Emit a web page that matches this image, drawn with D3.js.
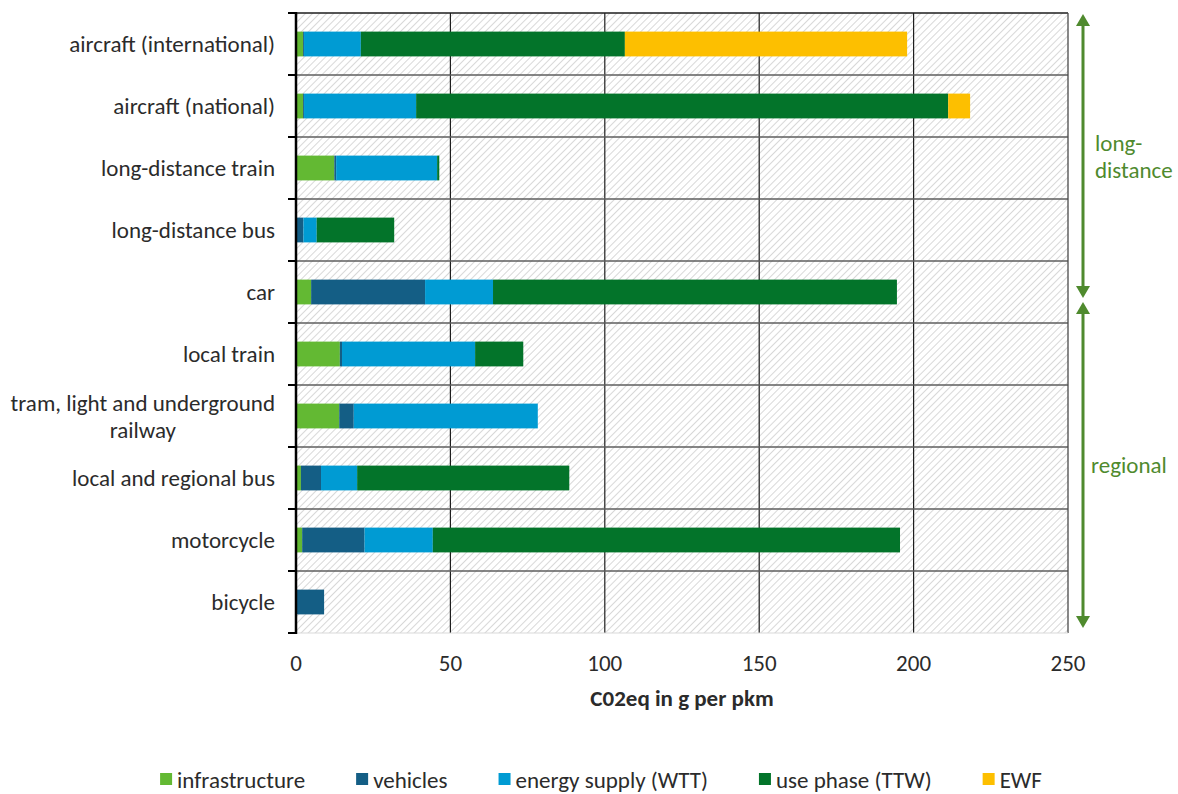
<!DOCTYPE html>
<html>
<head>
<meta charset="utf-8">
<script src="https://cdn.jsdelivr.net/npm/d3@7"></script>
<style>
  html, body { margin: 0; padding: 0; background: #fff; }
  svg { display: block; font-family: Carlito, Calibri, Lato, "Open Sans", sans-serif; }
</style>
</head>
<body>
<svg id="chart" width="1178" height="794"></svg>
<script>
// ---------- data ----------
const categories = [
  "aircraft (international)",
  "aircraft (national)",
  "long-distance train",
  "long-distance bus",
  "car",
  "local train",
  "tram, light and underground\nrailway",
  "local and regional bus",
  "motorcycle",
  "bicycle"
];
const seriesNames = ["infrastructure", "vehicles", "energy supply (WTT)", "use phase (TTW)", "EWF"];
const infrastructure = [2.3, 2.3, 12.4, 0.3, 4.9, 14.2, 14.0, 1.6, 2.0, 0.3];
const vehicles       = [0.3, 0.3, 0.6, 2.1, 36.9, 0.7, 4.7, 6.5, 20.2, 8.8];
const energySupply   = [18.4, 36.3, 32.7, 4.3, 22.0, 43.1, 59.6, 11.7, 22.1, 0];
const usePhase       = [85.5, 172.3, 0.7, 25.1, 130.8, 15.6, 0, 68.7, 151.3, 0];
const ewf            = [91.4, 7.1, 0, 0, 0, 0, 0, 0, 0, 0];
const xTicks = [0, 50, 100, 150, 200, 250];
const xTitle = "C02eq in g per pkm";
const groups = [
  { label: ["long-", "distance"], from: "aircraft (international)", to: "car" },
  { label: ["regional"], from: "local train", to: "bicycle" }
];

(function () {
// ---------- build ----------
const colors = ["#63b933", "#145e85", "#009bd3", "#03742a", "#fdbf00"];
const seriesArrays = [infrastructure, vehicles, energySupply, usePhase, ewf];
const table = categories.map((c, i) => {
  const row = { cat: c };
  seriesNames.forEach((s, k) => row[s] = seriesArrays[k][i]);
  return row;
});
const stacked = d3.stack().keys(seriesNames)(table);

const svg = d3.select("#chart");
const pLeft = 296, pRight = 1068, pTop = 13, pBottom = 633;
const fs = 23;
const x = d3.scaleLinear().domain([0, 250]).range([pLeft, pRight]);
const y = d3.scaleBand().domain(categories).range([pTop, pBottom]).padding(0);
const color = d3.scaleOrdinal().domain(seriesNames).range(colors);
const textColor = "#2b2b2b";
const groupColor = "#4f8a2e";

// hatch pattern
const defs = svg.append("defs");
const pat = defs.append("pattern")
  .attr("id", "hatch").attr("patternUnits", "userSpaceOnUse")
  .attr("width", 5).attr("height", 5)
  .attr("patternTransform", "rotate(45)");
pat.append("rect").attr("width", 5).attr("height", 5).attr("fill", "#ffffff");
pat.append("line").attr("x1", 0).attr("y1", 0).attr("x2", 0).attr("y2", 5)
  .attr("stroke", "#cfcfcf").attr("stroke-width", 1.6);

svg.append("rect").attr("x", pLeft).attr("y", pTop)
  .attr("width", pRight - pLeft).attr("height", pBottom - pTop)
  .attr("fill", "url(#hatch)");

// vertical gridlines
svg.append("g").selectAll("line").data(xTicks.filter(t => t > 0 && t < 250)).join("line")
  .attr("x1", d => x(d)).attr("x2", d => x(d))
  .attr("y1", pTop).attr("y2", pBottom)
  .attr("stroke", "#1e1e1e").attr("stroke-width", 1.2);

// horizontal row separators
const boundaries = categories.map(c => y(c)).concat([pBottom]);
svg.append("g").selectAll("line").data(boundaries.slice(1, -1)).join("line")
  .attr("x1", pLeft).attr("x2", pRight)
  .attr("y1", d => d).attr("y2", d => d)
  .attr("stroke", "#5e5e5e").attr("stroke-width", 1.5);

// frame
svg.append("line").attr("x1", pLeft).attr("x2", pRight).attr("y1", pTop).attr("y2", pTop)
  .attr("stroke", "#1e1e1e").attr("stroke-width", 1.5);
svg.append("line").attr("x1", pRight).attr("x2", pRight).attr("y1", pTop).attr("y2", pBottom)
  .attr("stroke", "#4a4a4a").attr("stroke-width", 1.3);
svg.append("line").attr("x1", pLeft).attr("x2", pRight).attr("y1", pBottom).attr("y2", pBottom)
  .attr("stroke", "#d9d9d9").attr("stroke-width", 1);

// bars
const barH = y.bandwidth() * 0.4;
svg.append("g").selectAll("g").data(stacked).join("g")
  .attr("fill", d => color(d.key))
  .selectAll("rect").data(d => d).join("rect")
  .attr("x", d => x(d[0]))
  .attr("width", d => Math.max(0, x(d[1]) - x(d[0])))
  .attr("y", d => y(d.data.cat) + (y.bandwidth() - barH) / 2)
  .attr("height", barH);

// y axis
svg.append("line").attr("x1", pLeft).attr("x2", pLeft).attr("y1", pTop - 1).attr("y2", pBottom + 1)
  .attr("stroke", "#000").attr("stroke-width", 2.5);
svg.append("g").selectAll("line").data(boundaries).join("line")
  .attr("x1", pLeft - 8).attr("x2", pLeft)
  .attr("y1", d => d).attr("y2", d => d)
  .attr("stroke", "#000").attr("stroke-width", 2);

// category labels
const lab = svg.append("g").selectAll("text").data(categories).join("text")
  .attr("text-anchor", "end")
  .attr("fill", textColor)
  .attr("font-size", fs);
lab.each(function(d) {
  const lines = d.split("\n");
  const cy = y(d) + y.bandwidth() / 2;
  const t = d3.select(this);
  lines.forEach((ln, i) => {
    const off = (i - (lines.length - 1) / 2) * 27;
    t.append("tspan").attr("x", 275).attr("y", cy + off).attr("dy", "0.35em").text(ln);
  });
  if (lines.length > 1) {
    const tspans = t.selectAll("tspan").nodes();
    const w0 = tspans[0].getComputedTextLength();
    d3.select(tspans[1]).attr("text-anchor", "middle").attr("x", 275 - w0 / 2);
  }
});

// x tick labels
svg.append("g").selectAll("text").data(xTicks).join("text")
  .attr("x", d => x(d)).attr("y", 663).attr("dy", "0.35em")
  .attr("text-anchor", "middle").attr("fill", textColor).attr("font-size", fs)
  .text(d => d);

svg.append("text").attr("x", (pLeft + pRight) / 2).attr("y", 698).attr("dy", "0.35em")
  .attr("text-anchor", "middle").attr("font-weight", "bold").attr("fill", textColor)
  .attr("font-size", fs).text(xTitle);

// group arrows
const ax = 1083;
groups.forEach((g, gi) => {
  const yy1 = gi === 0 ? pTop + 1 : y(g.from) - 21;
  const yy2 = gi === 0 ? y(g.to) + y.bandwidth() - 25 : pBottom - 5;
  const ah = 12, aw = 7;
  svg.append("line").attr("x1", ax).attr("x2", ax).attr("y1", yy1 + ah - 1).attr("y2", yy2 - ah + 1)
    .attr("stroke", groupColor).attr("stroke-width", 3);
  svg.append("path").attr("d", `M${ax},${yy1} L${ax - aw},${yy1 + ah} L${ax + aw},${yy1 + ah} Z`).attr("fill", groupColor);
  svg.append("path").attr("d", `M${ax},${yy2} L${ax - aw},${yy2 - ah} L${ax + aw},${yy2 - ah} Z`).attr("fill", groupColor);
  const mid = (yy1 + yy2) / 2;
  const t = svg.append("text").attr("fill", groupColor).attr("font-size", fs);
  g.label.forEach((ln, i) => {
    const off = (i - (g.label.length - 1) / 2) * 27;
    t.append("tspan").attr("x", gi === 0 ? 1095 : 1091).attr("y", mid + off).attr("dy", "0.35em").text(ln);
  });
});

// legend
const legend = svg.append("g");
const items = legend.selectAll("g").data(seriesNames).join("g");
items.append("rect").attr("width", 12).attr("height", 12).attr("y", 773).attr("fill", d => color(d));
items.append("text").attr("x", 17).attr("y", 780).attr("dy", "0.35em")
  .attr("fill", textColor).attr("font-size", fs).text(d => d);
const widths = items.nodes().map(n => n.getBBox().width);
const gap = 51;
const total = d3.sum(widths) + gap * (widths.length - 1);
let cx = 601 - total / 2;
items.each(function(d, i) {
  d3.select(this).attr("transform", `translate(${cx},0)`);
  cx += widths[i] + gap;
});
})();
</script>
</body>
</html>
